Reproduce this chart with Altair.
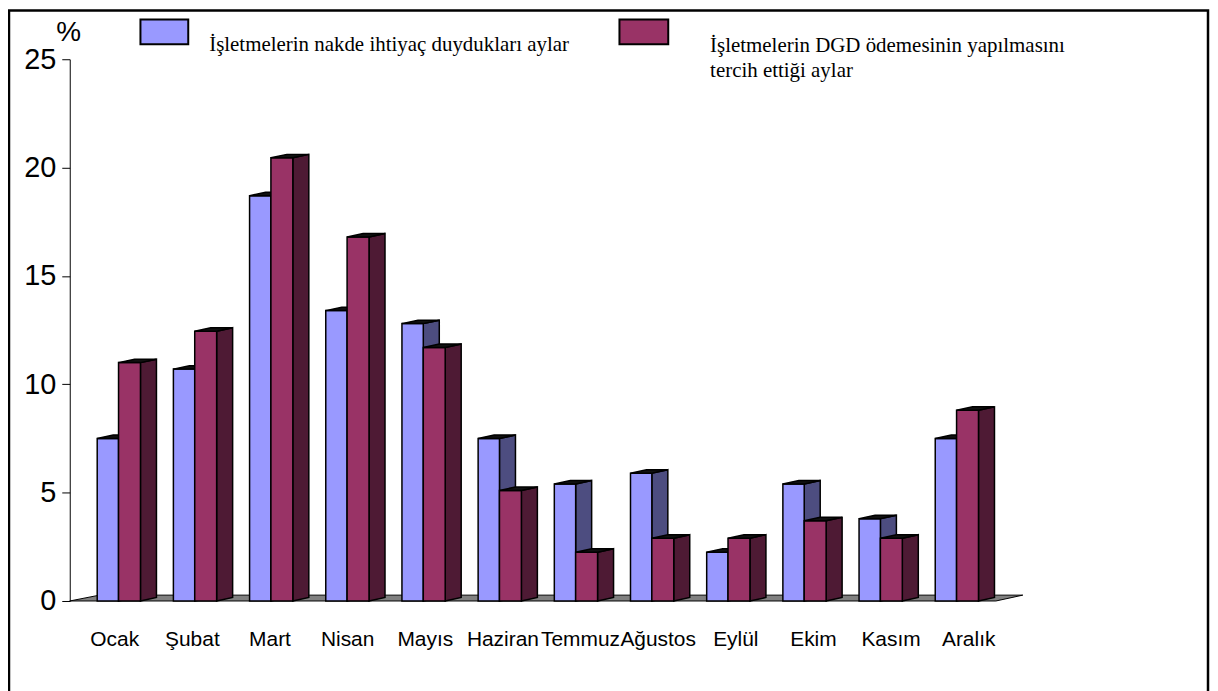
import altair as alt
import pandas as pd

# ---------------- data ----------------
months = ["Ocak", "Şubat", "Mart", "Nisan", "Mayıs", "Haziran",
          "Temmuz", "Ağustos", "Eylül", "Ekim", "Kasım", "Aralık"]
nakde = [7.5, 10.7, 18.7, 13.4, 12.8, 7.5, 5.4, 5.9, 2.25, 5.4, 3.8, 7.5]
dgd = [11.0, 12.45, 20.45, 16.8, 11.7, 5.1, 2.25, 2.9, 2.9, 3.7, 2.9, 8.8]
series_names = ["İşletmelerin nakde ihtiyaç duydukları aylar",
                "İşletmelerin DGD ödemesinin yapılmasını\ntercih ettiği aylar"]
y_ticks = [0, 5, 10, 15, 20, 25]

# ---------------- style constants ----------------
U_MIN, U_MAX = -0.6405, 11.869
BLUE_W, RED_W = 0.28, 0.2876
DEPTH, RISE, FLOOR_RISE = 0.21, 0.16, 0.27
BLUE, BLUE_SIDE = "#9999FF", "#4D4D80"
RED, RED_SIDE = "#993366", "#4E1A34"
SANS = "Liberation Sans"
SERIF = "Liberation Serif"

x_scale = alt.Scale(domain=[U_MIN, U_MAX], nice=False, zero=False)
y_scale = alt.Scale(domain=[0, 25], nice=False, zero=False)
y_axis = alt.Axis(values=y_ticks, tickSize=8, tickColor="black", tickWidth=1,
                  domainColor="black", domainWidth=1, labelFont=SANS,
                  labelFontSize=29, labelColor="black", labelPadding=6,
                  grid=False, title=None, labelBaseline="middle")


def geometry(values, left_off, right_off):
    fronts, sides, tops = [], [], []
    for i, v in enumerate(values):
        xl, xr = i + left_off, i + right_off
        fronts.append({"k": i, "x": xl, "x2": xr, "lo": 0.0, "hi": v})
        sides += [{"k": i, "x": xr, "lo": 0.0, "hi": v},
                  {"k": i, "x": xr + DEPTH, "lo": RISE, "hi": v + RISE}]
        tops += [{"k": i, "x": xl, "lo": v, "hi": v},
                 {"k": i, "x": xl + DEPTH, "lo": v, "hi": v + RISE},
                 {"k": i, "x": xr, "lo": v, "hi": v + RISE},
                 {"k": i, "x": xr + DEPTH, "lo": v + RISE, "hi": v + RISE}]
    return pd.DataFrame(fronts), pd.DataFrame(sides), pd.DataFrame(tops)


def bar_layers(values, left_off, right_off, front_col, side_col):
    f, s, t = geometry(values, left_off, right_off)
    side = alt.Chart(s).mark_area(color=side_col, stroke="black", strokeWidth=1.5).encode(
        x=alt.X("x:Q", scale=x_scale, axis=None),
        y=alt.Y("lo:Q", scale=y_scale, axis=y_axis),
        y2="hi:Q", detail="k:N")
    front = alt.Chart(f).mark_rect(color=front_col, stroke="black", strokeWidth=1.5).encode(
        x=alt.X("x:Q", scale=x_scale, axis=None), x2="x2:Q",
        y=alt.Y("lo:Q", scale=y_scale, axis=y_axis), y2="hi:Q")
    top = alt.Chart(t).mark_area(color="#111111", stroke="black", strokeWidth=1.5).encode(
        x=alt.X("x:Q", scale=x_scale, axis=None),
        y=alt.Y("lo:Q", scale=y_scale, axis=y_axis),
        y2="hi:Q", detail="k:N")
    return [side, front, top]


floor_df = pd.DataFrame({
    "x": [U_MIN, -0.25, 11.516, U_MAX],
    "lo": [0, 0, 0, FLOOR_RISE],
    "hi": [0, FLOOR_RISE, FLOOR_RISE, FLOOR_RISE],
})
floor = alt.Chart(floor_df).mark_area(color="#808080", stroke="black", strokeWidth=1).encode(
    x=alt.X("x:Q", scale=x_scale, axis=None),
    y=alt.Y("lo:Q", scale=y_scale, axis=y_axis),
    y2="hi:Q")

label_df = pd.DataFrame({"month": months, "i": list(range(len(months)))})
labels = alt.Chart(label_df).transform_calculate(xl="datum.i * 1.019 - 0.05").mark_text(
    font=SANS, fontSize=21, color="black", align="center", baseline="alphabetic").encode(
    x=alt.X("xl:Q", scale=x_scale, axis=None),
    y=alt.value(589),
    text="month:N")

one = pd.DataFrame({"a": [0]})
percent = alt.Chart(one).mark_text(text="%", font=SANS, fontSize=28, color="black",
                                   align="center", baseline="alphabetic").encode(
    x=alt.value(-1), y=alt.value(-18))

sw_blue = alt.Chart(one).mark_rect(color=BLUE, stroke="black", strokeWidth=2).encode(
    x=alt.value(71), x2=alt.value(119), y=alt.value(-40), y2=alt.value(-15))
sw_red = alt.Chart(one).mark_rect(color=RED, stroke="black", strokeWidth=2).encode(
    x=alt.value(552), x2=alt.value(601), y=alt.value(-40), y2=alt.value(-15))
txt_blue = alt.Chart(one).mark_text(text=series_names[0], font=SERIF, fontSize=21,
                                    color="black", align="left", baseline="alphabetic").encode(
    x=alt.value(140), y=alt.value(-8))
txt_red = alt.Chart(one).mark_text(text=series_names[1], font=SERIF, fontSize=21,
                                   color="black", align="left", baseline="alphabetic",
                                   lineBreak="\n", lineHeight=25).encode(
    x=alt.value(643), y=alt.value(-7))

frame = alt.Chart(one).mark_rect(fillOpacity=0, stroke="black", strokeWidth=2.5).encode(
    x=alt.value(-61), x2=alt.value(1143), y=alt.value(-49), y2=alt.value(700))

layers = [floor] + bar_layers(nakde, -BLUE_W, 0.0, BLUE, BLUE_SIDE) \
    + bar_layers(dgd, 0.0, RED_W, RED, RED_SIDE) \
    + [labels, percent, sw_blue, sw_red, txt_blue, txt_red, frame]

chart = alt.layer(*layers).properties(
    width=957, height=544,
    autosize=alt.AutoSizeParams(type="none"),
    padding={"left": 62, "top": 50, "right": 188, "bottom": 106},
    background="white",
).configure_view(strokeWidth=0)

chart.save("out.html", embed_options={"renderer": "svg", "actions": False})
